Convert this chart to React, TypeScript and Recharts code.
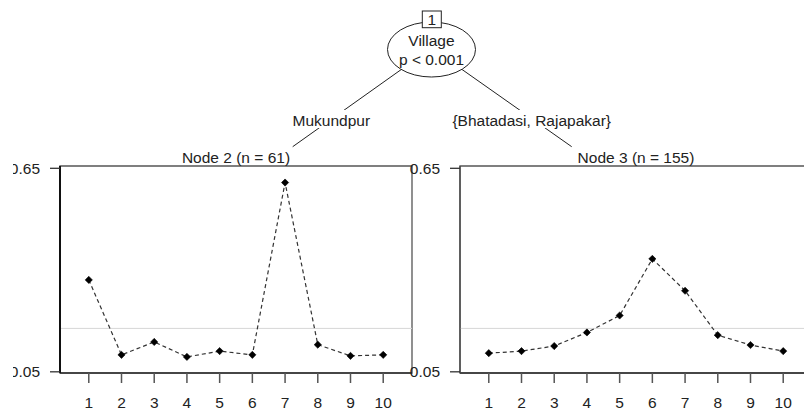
import React from 'react';
import { LineChart, Line, XAxis, YAxis, ReferenceLine, ReferenceArea } from 'recharts';

// ---- data ----
const xCategories = [1, 2, 3, 4, 5, 6, 7, 8, 9, 10];
const node2Values = [0.321, 0.100, 0.138, 0.094, 0.111, 0.100, 0.608, 0.130, 0.097, 0.100];
const node3Values = [0.105, 0.111, 0.126, 0.166, 0.216, 0.383, 0.289, 0.158, 0.129, 0.111];
const yTicks = [0.05, 0.65];
const refValue = 0.178;
const rootVariable = 'Village';
const rootPValue = 'p < 0.001';
const rootId = '1';
const leftSplit = 'Mukundpur';
const rightSplit = '{Bhatadasi, Rajapakar}';
const node2Title = 'Node 2 (n = 61)';
const node3Title = 'Node 3 (n = 155)';

// ---- layout ----
const X_DOMAIN: [number, number] = [0.12, 10.88];
const Y_DOMAIN: [number, number] = [0.0465, 0.6568];
const FONT = '"Liberation Sans", Arial, sans-serif';
const FS = 15.5;
const TEXT = '#222';

const node2Data = xCategories.map((x, i) => ({ x, value: node2Values[i] }));
const node3Data = xCategories.map((x, i) => ({ x, value: node3Values[i] }));

const Diamond = (props: any) => {
  const { cx, cy, index } = props;
  if (cx == null || cy == null) return <g key={`d-${index}`} />;
  const r = 3.6;
  return (
    <path
      key={`d-${index}`}
      d={`M${cx},${cy - r} L${cx + r},${cy} L${cx},${cy + r} L${cx - r},${cy} Z`}
      fill="#000"
      stroke="#000"
      strokeWidth={0.6}
    />
  );
};

function Panel({ data, thickLeft }: { data: any[]; thickLeft: boolean }) {
  return (
    <LineChart
      width={414}
      height={411}
      data={data}
      margin={{ top: 166, right: 2, bottom: 0, left: 0 }}
      style={{ fontFamily: FONT }}
    >
      <ReferenceArea
        x1={X_DOMAIN[0]}
        x2={X_DOMAIN[1]}
        y1={Y_DOMAIN[0]}
        y2={Y_DOMAIN[1]}
        fill="none"
        fillOpacity={0}
        stroke="#555"
        strokeWidth={1.3}
        ifOverflow="visible"
      />
      <ReferenceLine y={refValue} stroke="#d6d6d6" strokeWidth={1} />
      <XAxis
        dataKey="x"
        type="number"
        domain={X_DOMAIN}
        ticks={xCategories}
        interval={0}
        allowDataOverflow
        height={38}
        tickSize={10}
        tickMargin={14}
        axisLine={{ stroke: '#333', strokeWidth: 1.5 }}
        tickLine={{ stroke: '#555', strokeWidth: 1.5 }}
        tick={{ fontSize: FS, fill: TEXT, fontFamily: FONT }}
      />
      <YAxis
        type="number"
        domain={Y_DOMAIN}
        ticks={yTicks}
        allowDataOverflow
        width={60}
        tickSize={10}
        tickMargin={10}
        tickFormatter={(v: number) => v.toFixed(2)}
        axisLine={thickLeft ? { stroke: '#111', strokeWidth: 2 } : { stroke: '#444', strokeWidth: 1.3 }}
        tickLine={{ stroke: '#333', strokeWidth: 1.3 }}
        tick={{ fontSize: FS, fill: TEXT, fontFamily: FONT }}
      />
      <Line
        type="linear"
        dataKey="value"
        stroke="#333"
        strokeWidth={1.2}
        strokeDasharray="4 3"
        dot={Diamond}
        activeDot={false}
        isAnimationActive={false}
      />
    </LineChart>
  );
}

function Tree() {
  const cx = 431.5;
  const cy = 48;
  const textProps = { fontSize: FS, fill: TEXT, fontFamily: FONT, textAnchor: 'middle' as const };
  return (
    <svg
      width={804}
      height={170}
      style={{ position: 'absolute', left: 0, top: 0, pointerEvents: 'none' }}
    >
      <line x1={cx} y1={cy} x2={292.7} y2={146.7} stroke="#222" strokeWidth={1} />
      <line x1={cx} y1={cy} x2={571.7} y2={146.7} stroke="#222" strokeWidth={1} />
      <ellipse cx={431.5} cy={49.5} rx={44} ry={27.5} fill="#fff" stroke="#222" strokeWidth={1} />
      <rect x={422.3} y={11} width={19} height={16.7} fill="#fff" stroke="#222" strokeWidth={1} />
      <text x={431.8} y={25} {...textProps}>{rootId}</text>
      <text x={431.5} y={45.7} {...textProps}>{rootVariable}</text>
      <text x={431.5} y={64.5} {...textProps}>{rootPValue}</text>
      <rect x={292} y={110} width={78} height={18} fill="#fff" />
      <text x={331.3} y={126} {...textProps}>{leftSplit}</text>
      <rect x={450} y={110} width={164} height={18} fill="#fff" />
      <text x={531.7} y={126} {...textProps}>{rightSplit}</text>
      <text x={236} y={163} {...textProps}>{node2Title}</text>
      <text x={636} y={163} {...textProps}>{node3Title}</text>
    </svg>
  );
}

export default function App() {
  return (
    <div
      style={{
        position: 'absolute',
        left: 0,
        top: 0,
        width: 804,
        height: 411,
        overflow: 'hidden',
        background: '#fff',
        fontFamily: FONT,
      }}
    >
      <div style={{ position: 'absolute', left: 12.5, top: 0, width: 402, height: 411, overflow: 'hidden' }}>
        <div style={{ position: 'absolute', left: -12.5, top: 0 }}>
          <Panel data={node2Data} thickLeft={true} />
        </div>
      </div>
      <div style={{ position: 'absolute', left: 400, top: 0 }}>
        <Panel data={node3Data} thickLeft={false} />
      </div>
      <Tree />
    </div>
  );
}
